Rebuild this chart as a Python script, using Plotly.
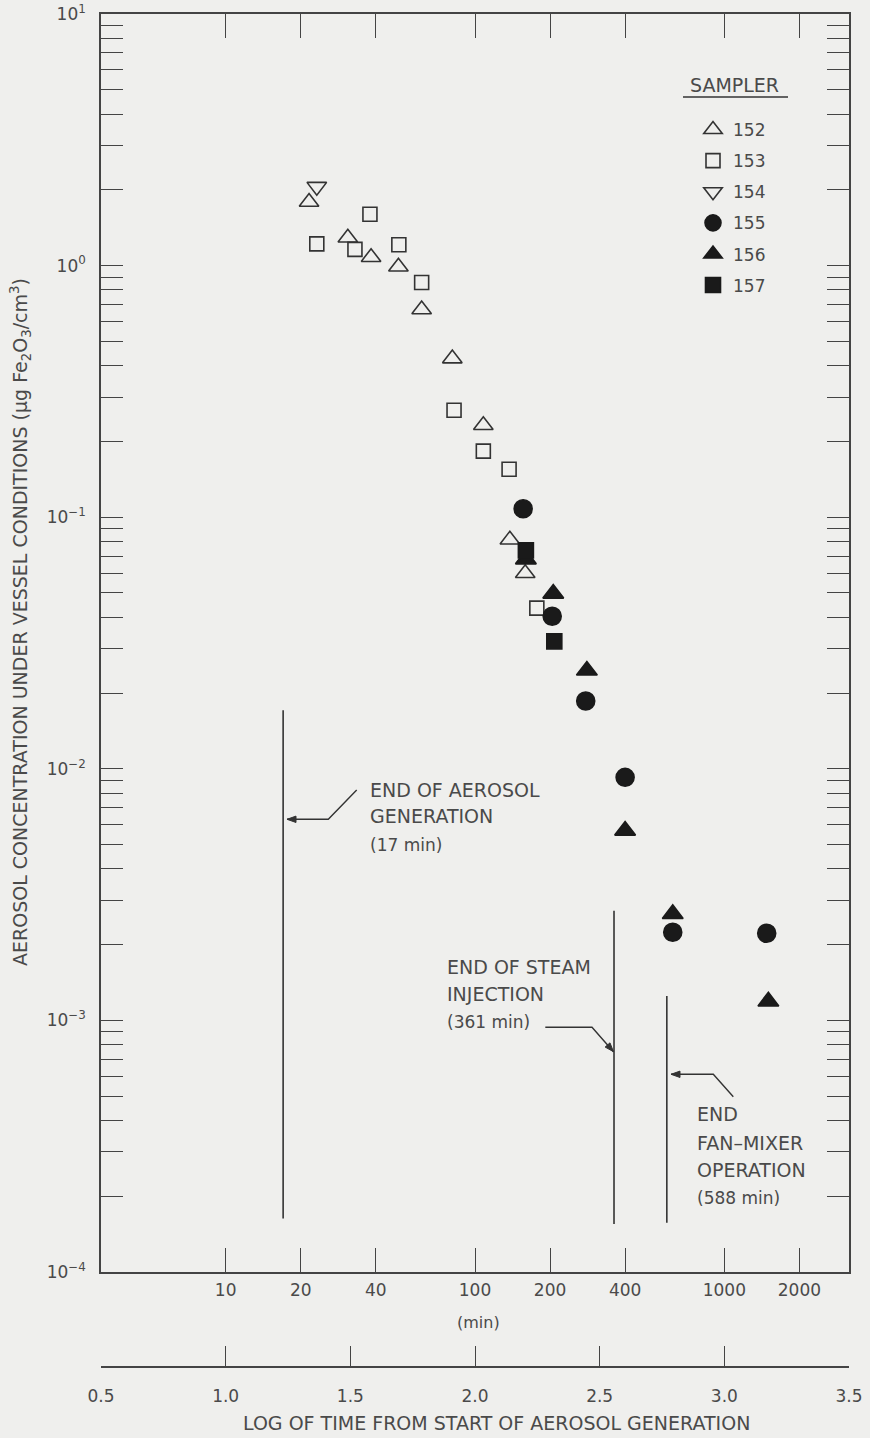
import math
import plotly.graph_objects as go

# ---------------- data ----------------
# time from start of aerosol generation (min), concentration (ug Fe2O3/cm3)
t152 = [21.6, 30.9, 38.3, 49.3, 61.1, 81.1, 108, 138, 159]
c152 = [1.79, 1.29, 1.08, 0.99, 0.669, 0.427, 0.232, 0.0814, 0.0599]

t153 = [23.2, 33.0, 37.9, 49.5, 61.1, 82.4, 108, 137, 177]
c153 = [1.22, 1.16, 1.60, 1.21, 0.857, 0.266, 0.183, 0.155, 0.0435]

t154 = [23.2]
c154 = [2.06]

t155 = [156, 204, 278, 400, 621, 1479]
c155 = [0.108, 0.0404, 0.0186, 0.00925, 0.00224, 0.00222]

t156 = [160, 206, 281, 400, 621, 1502]
c156 = [0.068, 0.0497, 0.0246, 0.00568, 0.00265, 0.00119]

t157 = [160, 208]
c157 = [0.0738, 0.0321]

# event markers (vertical lines)
event_times = [17, 361, 588]
event_top = [0.0171, 0.00273, 0.00125]
event_bottom = [1.63e-4, 1.55e-4, 1.57e-4]

# axis ticks
min_ticks = [10, 20, 40, 100, 200, 400, 1000, 2000]
min_ticktext = ["10", "20", "40", "100", "200", "400", "1000", "2000"]
log_ticks = [0.5, 1.0, 1.5, 2.0, 2.5, 3.0, 3.5]
log_ticktext = ["0.5", "1.0", "1.5", "2.0", "2.5", "3.0", "3.5"]
y_decades = [1e-4, 1e-3, 1e-2, 1e-1, 1e0, 1e1]
y_ticktext = ["10<sup>−4</sup>", "10<sup>−3</sup>", "10<sup>−2</sup>",
              "10<sup>−1</sup>", "10<sup>0</sup>", "10<sup>1</sup>"]
y_minor = [k * d for d in [1e-4, 1e-3, 1e-2, 1e-1, 1e0] for k in range(2, 10)]

# ---------------- layout geometry ----------------
W, H = 870, 1438
ML, MR, MT, MB = 101, 21, 14, 71
PW = W - ML - MR
PH = H - MT - MB
PLOT_BOTTOM_PX = 1272


def px_x(px):
    return (px - ML) / PW


def px_y(py):
    return (H - MB - py) / PH


FONT = "DejaVu Sans"
TXT = "#4a4a4a"
INK = "#333333"
MARK = "#1a1a1a"
BG = "#efefed"

fig = go.Figure()

series = [
    ("152", t152, c152, "triangle-up-open", 17, INK),
    ("153", t153, c153, "square-open", 14, INK),
    ("154", t154, c154, "triangle-down-open", 17, INK),
    ("155", t155, c155, "circle", 18, MARK),
    ("156", t156, c156, "triangle-up", 18, MARK),
    ("157", t157, c157, "square", 15, MARK),
]
for name, t, c, sym, size, col in series:
    fig.add_trace(go.Scatter(
        x=t, y=c, mode="markers", name=name, legendgroup=name,
        marker=dict(symbol=sym, size=size, color=col,
                    line=dict(width=1.6, color=col)),
        hoverinfo="x+y+name",
    ))

for tt, top, bot in zip(event_times, event_top, event_bottom):
    fig.add_trace(go.Scatter(
        x=[tt, tt], y=[top, bot], mode="lines",
        line=dict(color=INK, width=1.6), showlegend=False, hoverinfo="skip",
    ))

# dummy trace to activate the secondary (log of time) axis
fig.add_trace(go.Scatter(x=[0.5, 3.5], y=[None, None], xaxis="x2", yaxis="y",
                         mode="markers", showlegend=False, hoverinfo="skip"))

axis_common = dict(showgrid=False, zeroline=False, showline=True, automargin=False,
                   linecolor="#444", linewidth=1.6, tickcolor="#444",
                   tickwidth=1.4, ticks="inside",
                   tickfont=dict(family=FONT, size=17, color=TXT))

fig.update_layout(
    template="none",
    width=W, height=H, autosize=False,
    margin=dict(l=ML, r=MR, t=MT, b=MB, pad=0, autoexpand=False),
    paper_bgcolor=BG, plot_bgcolor=BG,
    font=dict(family=FONT, color=TXT),
    xaxis=dict(type="log", range=[0.5, 3.5], domain=[0, 1], anchor="y",
               tickvals=min_ticks, ticktext=min_ticktext, ticklen=24,
               mirror="allticks", ticklabelstandoff=2, **axis_common),
    yaxis=dict(type="log", range=[-4, 1], domain=[px_y(PLOT_BOTTOM_PX), 1],
               tickvals=y_decades, ticktext=y_ticktext, ticklen=22,
               mirror="allticks", ticklabelstandoff=10,
               minor=dict(ticks="inside", ticklen=9, tickvals=y_minor,
                          tickcolor="#444", tickwidth=1.2),
               **axis_common),
    xaxis2=dict(range=[0.5, 3.5], anchor="free", position=0, overlaying="x",
                side="bottom", tickvals=log_ticks, ticktext=log_ticktext,
                ticklen=20, ticklabelstandoff=14, **axis_common),
    legend=dict(x=px_x(693), y=px_y(112), xanchor="left", yanchor="top",
                bgcolor="rgba(0,0,0,0)", font=dict(family=FONT, size=17, color=TXT),
                tracegroupgap=6, itemsizing="trace", borderwidth=0),
    showlegend=True,
)

ann = []


def text(px, py, s, size=19, xanchor="left", angle=0):
    ann.append(dict(x=px_x(px), y=px_y(py), xref="paper", yref="paper",
                    text=s, showarrow=False, xanchor=xanchor, yanchor="middle",
                    textangle=angle, font=dict(family=FONT, size=size, color=TXT)))


def connector(points):
    """points in pixel coords, from the text end to the arrow tip."""
    path = "M " + " L ".join(f"{px_x(x):.5f},{px_y(y):.5f}" for x, y in points)
    fig.add_shape(type="path", xref="paper", yref="paper", path=path,
                  line=dict(color=INK, width=1.4))
    (x1, y1), (x2, y2) = points[-2], points[-1]
    d = math.hypot(x2 - x1, y2 - y1)
    ux, uy = (x2 - x1) / d, (y2 - y1) / d
    L, hw = 9, 3.2
    bx, by = x2 - ux * L, y2 - uy * L
    p1 = (bx - uy * hw, by + ux * hw)
    p2 = (bx + uy * hw, by - ux * hw)
    head = (f"M {px_x(x2):.5f},{px_y(y2):.5f} L {px_x(p1[0]):.5f},{px_y(p1[1]):.5f} "
            f"L {px_x(p2[0]):.5f},{px_y(p2[1]):.5f} Z")
    fig.add_shape(type="path", xref="paper", yref="paper", path=head,
                  fillcolor=INK, line=dict(color=INK, width=1))


# end of aerosol generation
text(368, 790, "END OF AEROSOL")
text(368, 816, "GENERATION")
text(368, 845, "(17 min)", size=17)
connector([(356.7, 790), (328.3, 819.3), (287, 819.3)])

# end of steam injection
text(445, 967, "END OF STEAM")
text(445, 994, "INJECTION")
text(445, 1022, "(361 min)", size=17)
connector([(545.3, 1027.3), (592, 1027.3), (613.5, 1051.7)])

# end fan-mixer operation
text(695, 1114, "END")
text(695, 1143, "FAN–MIXER")
text(695, 1170, "OPERATION")
text(695, 1198, "(588 min)", size=17)
connector([(733.3, 1096.7), (713.3, 1074.3), (671, 1074.3)])

# legend heading
text(734, 85, "SAMPLER", size=19, xanchor="center")

# axis titles
text(20, 622, "AEROSOL CONCENTRATION UNDER VESSEL CONDITIONS (µg Fe<sub>2</sub>O<sub>3</sub>/cm<sup>3</sup>)",
     size=19, xanchor="center", angle=-90)
text(478, 1322, "(min)", size=16, xanchor="center")
text(496, 1423, "LOG OF TIME FROM START OF AEROSOL GENERATION", size=19, xanchor="center")

fig.update_layout(annotations=ann)

fig.add_shape(type="line", xref="paper", yref="paper",
              x0=px_x(683), x1=px_x(788), y0=px_y(97), y1=px_y(97),
              line=dict(color=INK, width=1.5))

fig.write_html("out.html",
               config={"displayModeBar": False},
               post_script="document.body.style.margin='0';"
                           "document.body.style.background='#efefed';")
